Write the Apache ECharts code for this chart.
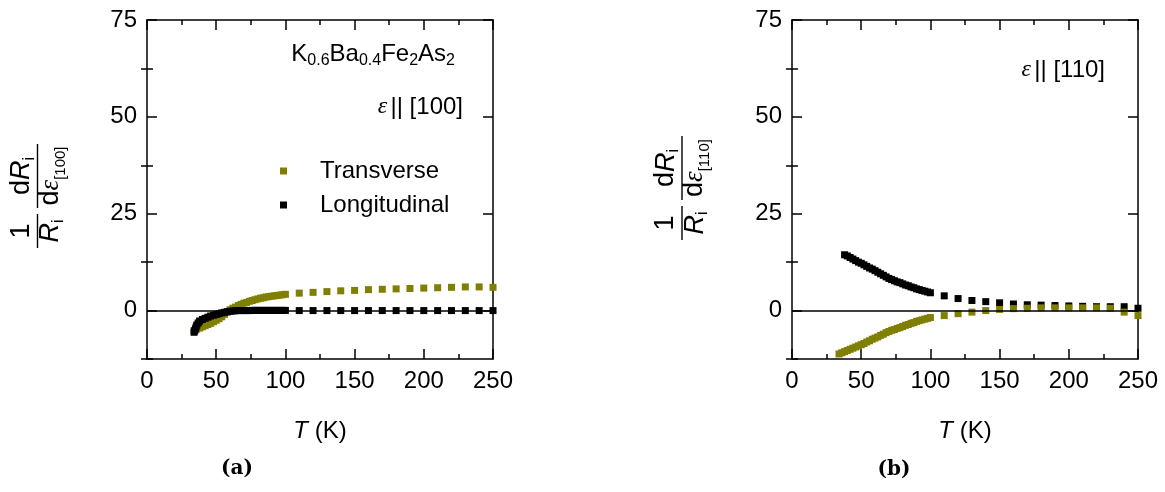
<!DOCTYPE html>
<html><head><meta charset="utf-8">
<script src="https://cdn.jsdelivr.net/npm/echarts@6/dist/echarts.min.js"></script>
<style>html,body{margin:0;padding:0;background:#fff}#c{width:1165px;height:492px}</style>
</head><body><div id="c"></div>
<script>
// ---------- data ----------
const xMin = 0, xMax = 250, xInterval = 50;
const yMin = -12.5, yMax = 75;
const yTickValues = [0, 25, 50, 75];
const yMinorTickValues = [-12.5, 12.5, 37.5, 62.5];
const seriesNames = ['Transverse', 'Longitudinal'];

// panel (a): strain along [100]
const aTransT = [34,36,38,40,42,44,46,48,50,52,54,56,58,60,62,64,66,68,70,72,74,76,78,80,82,84,86,88,90,92,94,96,98,100,110,120,130,140,150,160,170,180,190,200,210,220,230,240,250];
const aTransV = [-5.2,-4.8,-4.5,-4.2,-3.9,-3.6,-3.3,-2.9,-2.5,-2.1,-1.6,-1.0,-0.4,0.2,0.6,0.9,1.3,1.6,1.9,2.1,2.4,2.6,2.8,3.0,3.2,3.3,3.5,3.6,3.7,3.8,3.9,4.0,4.1,4.2,4.5,4.7,4.9,5.1,5.2,5.4,5.5,5.6,5.7,5.8,5.9,6.0,6.1,6.1,6.0];
const aLongT = [34,34.5,35,35.5,36,37,38,40,42,44,46,48,50,52,54,56,58,60,62,64,66,68,70,72,74,76,78,80,82,84,86,88,90,92,94,96,98,100,110,120,130,140,150,160,170,180,190,200,210,220,230,240,250];
const aLongV = [-5.6,-5.2,-4.7,-4.2,-3.7,-3.2,-2.7,-2.3,-2.0,-1.7,-1.4,-1.2,-1.0,-0.8,-0.6,-0.45,-0.3,-0.2,-0.1,-0.05,0,0,0,0,0,0.05,0.05,0.05,0.05,0.05,0.05,0.05,0.05,0.05,0.05,0.05,0.05,0.05,0,0,0,0,0,0,0,0,0,0,0,0,0,0,0];

// panel (b): strain along [110]
const bTransT = [34,36,38,40,42,44,46,48,50,52,54,56,58,60,62,64,66,68,70,72,74,76,78,80,82,84,86,88,90,92,94,96,98,100,110,120,130,140,150,160,170,180,190,200,210,220,230,240,250];
const bTransV = [-11.2,-10.9,-10.6,-10.3,-10.0,-9.7,-9.4,-9.1,-8.8,-8.5,-8.1,-7.8,-7.4,-7.1,-6.8,-6.4,-6.1,-5.7,-5.4,-5.1,-4.9,-4.6,-4.4,-4.1,-3.8,-3.6,-3.3,-3.1,-2.8,-2.6,-2.4,-2.2,-2.0,-1.8,-1.3,-0.8,-0.4,0.0,0.3,0.5,0.6,0.7,0.7,0.7,0.7,0.7,0.6,-0.4,-1.3];
const bLongT = [38,40,42,44,46,48,50,52,54,56,58,60,62,64,66,68,70,72,74,76,78,80,82,84,86,88,90,92,94,96,98,100,110,120,130,140,150,160,170,180,190,200,210,220,230,240,250];
const bLongV = [14.4,14.1,13.7,13.3,12.9,12.5,12.2,11.8,11.4,11.0,10.7,10.3,9.9,9.5,9.1,8.7,8.3,8.0,7.7,7.4,7.2,6.9,6.6,6.4,6.1,5.9,5.6,5.4,5.2,5.0,4.8,4.6,3.8,3.1,2.6,2.3,2.0,1.7,1.5,1.4,1.3,1.2,1.1,1.0,1.0,1.0,0.6];

// ---------- styling ----------
const SANS = 'Liberation Sans, Arial, sans-serif';
const SERIF = 'Liberation Serif, Times New Roman, serif';
const OLIVE = '#7f7f00';
const BLACK = '#000000';
const FS = 24;

function pairs(t, v) { return t.map((x, i) => [x, v[i]]); }

const grids = [
  { left: 147, top: 20, width: 346, height: 339 },
  { left: 792, top: 20, width: 346, height: 339 }
];

const lineStyle = { color: '#000', width: 1.5 };

function makeXAxes(g) {
  const base = {
    type: 'value', gridIndex: g, min: xMin, max: xMax, interval: xInterval,
    splitLine: { show: false },
    axisLine: { show: true, onZero: false, lineStyle },
    axisTick: { show: true, inside: true, length: 10, lineStyle },
    minorTick: { show: true, splitNumber: 2, length: 5, lineStyle },
  };
  return [
    Object.assign({}, base, {
      position: 'bottom',
      axisLabel: { margin: 10, fontSize: FS, color: '#000', fontFamily: SANS },
      name: '{i|T} (K)', nameLocation: 'middle', nameGap: 60,
      nameTextStyle: { fontSize: FS, color: '#000', fontFamily: SANS,
        rich: { i: { fontSize: FS, fontStyle: 'italic', fontFamily: SANS, color: '#000' } } }
    }),
    Object.assign({}, base, { position: 'top', axisLabel: { show: false } })
  ];
}

function makeYAxes(g) {
  const base = {
    type: 'value', gridIndex: g, min: yMin, max: yMax,
    splitLine: { show: false },
  };
  return [
    Object.assign({}, base, {
      position: 'left',
      axisLine: { show: true, onZero: false, lineStyle },
      axisTick: { show: true, inside: true, length: 10, lineStyle, customValues: yTickValues },
      axisLabel: { show: true, margin: 10, fontSize: FS, color: '#000', fontFamily: SANS, customValues: yTickValues }
    }),
    Object.assign({}, base, {
      position: 'left',
      axisLine: { show: false },
      axisTick: { show: true, inside: true, length: 6, lineStyle, customValues: yMinorTickValues },
      axisLabel: { show: false }
    }),
    Object.assign({}, base, {
      position: 'right',
      axisLine: { show: true, onZero: false, lineStyle },
      axisTick: { show: true, inside: true, length: 10, lineStyle, customValues: yTickValues },
      axisLabel: { show: false }
    }),
    Object.assign({}, base, {
      position: 'right',
      axisLine: { show: false },
      axisTick: { show: true, inside: true, length: 6, lineStyle, customValues: yMinorTickValues },
      axisLabel: { show: false }
    })
  ];
}

function scatter(name, data, color, g, withZero) {
  const s = {
    type: 'scatter', name, data, symbol: 'rect', symbolSize: 7,
    itemStyle: { color, opacity: 1 }, xAxisIndex: g * 2, yAxisIndex: g * 4,
    animation: false, silent: true
  };
  if (withZero) {
    s.markLine = {
      silent: true, symbol: ['none', 'none'], label: { show: false },
      lineStyle: { color: '#000', width: 1.5, type: 'solid', opacity: 1 },
      data: [{ yAxis: 0 }], animation: false
    };
  }
  return s;
}

const subRich = {
  m: { fontSize: FS, fontFamily: SANS, color: '#000', lineHeight: 26 },
  s: { fontSize: 16, fontFamily: SANS, color: '#000', lineHeight: 16, padding: [14, 0, 0, 0] },
  e: { fontSize: FS, fontFamily: SERIF, fontStyle: 'italic', color: '#000', lineHeight: 26 }
};

const fracRich = {
  m: { fontSize: 27, fontFamily: SANS, color: '#000', lineHeight: 30 },
  r: { fontSize: 27, fontFamily: SANS, fontStyle: 'italic', color: '#000', lineHeight: 30 },
  e: { fontSize: 27, fontFamily: SERIF, fontStyle: 'italic', color: '#000', lineHeight: 30 },
  s: { fontSize: 16, fontFamily: SANS, color: '#000', lineHeight: 14, padding: [16, 0, 0, 0] },
  b: { fontSize: 15, fontFamily: SANS, color: '#000', lineHeight: 14, padding: [20, 0, 0, 0] }
};

function yTitle(x, y, dir) {
  const t = (text, cx, cy) => ({
    type: 'text', x: cx, y: cy,
    style: { text, rich: fracRich, align: 'center', verticalAlign: 'middle' }
  });
  const line = (x1, x2) => ({
    type: 'line', shape: { x1, y1: 0, x2, y2: 0 },
    style: { stroke: '#000', lineWidth: 1.4 }
  });
  return {
    type: 'group', x, y, rotation: Math.PI / 2, silent: true,
    children: [
      t('{m|1}', 17, -16),
      line(0, 34),
      t('{r|R}{s|i}', 17, 13),
      t('{m|d}{r|R}{s|i}', 72, -16),
      line(40, 104),
      t('{m|d}{e|ε}{b|[' + dir + ']}', 72, 13)
    ]
  };
}

const chart = echarts.init(document.getElementById('c'), null, { renderer: 'canvas' });
chart.setOption({
  animation: false,
  backgroundColor: '#fff',
  grid: grids,
  xAxis: [...makeXAxes(0), ...makeXAxes(1)],
  yAxis: [...makeYAxes(0), ...makeYAxes(1)],
  legend: {
    left: 275, top: 154, orient: 'vertical', icon: 'rect',
    itemWidth: 7, itemHeight: 7, itemGap: 10,
    data: seriesNames, selectedMode: false,
    itemStyle: { opacity: 1 },
    textStyle: { fontSize: FS, fontFamily: SANS, color: '#000', lineHeight: 24, padding: [0, 0, 0, 28] }
  },
  series: [
    scatter(seriesNames[0], pairs(aTransT, aTransV), OLIVE, 0, true),
    scatter(seriesNames[1], pairs(aLongT, aLongV), BLACK, 0, false),
    scatter(seriesNames[1], pairs(bLongT, bLongV), BLACK, 1, true),
    scatter(seriesNames[0], pairs(bTransT, bTransV), OLIVE, 1, false)
  ],
  graphic: [
    { type: 'text', x: 455, y: 54, silent: true,
      style: { text: '{m|K}{s|0.6}{m|Ba}{s|0.4}{m|Fe}{s|2}{m|As}{s|2}', rich: subRich, align: 'right', verticalAlign: 'middle' } },
    { type: 'text', x: 463, y: 107, silent: true,
      style: { text: '{e|ε} {m||| [100]}', rich: subRich, align: 'right', verticalAlign: 'middle' } },
    { type: 'text', x: 1105, y: 70, silent: true,
      style: { text: '{e|ε} {m||| [110]}', rich: subRich, align: 'right', verticalAlign: 'middle' } },
    yTitle(37.5, 248, '100'),
    yTitle(682, 240, '110'),
    { type: 'text', x: 237, y: 469, silent: true,
      style: { text: '(a)', font: 'bold 20px DejaVu Serif', fill: '#000', align: 'center', verticalAlign: 'middle' } },
    { type: 'text', x: 894, y: 470, silent: true,
      style: { text: '(b)', font: 'bold 20px DejaVu Serif', fill: '#000', align: 'center', verticalAlign: 'middle' } }
  ]
});
</script>
</body></html>
